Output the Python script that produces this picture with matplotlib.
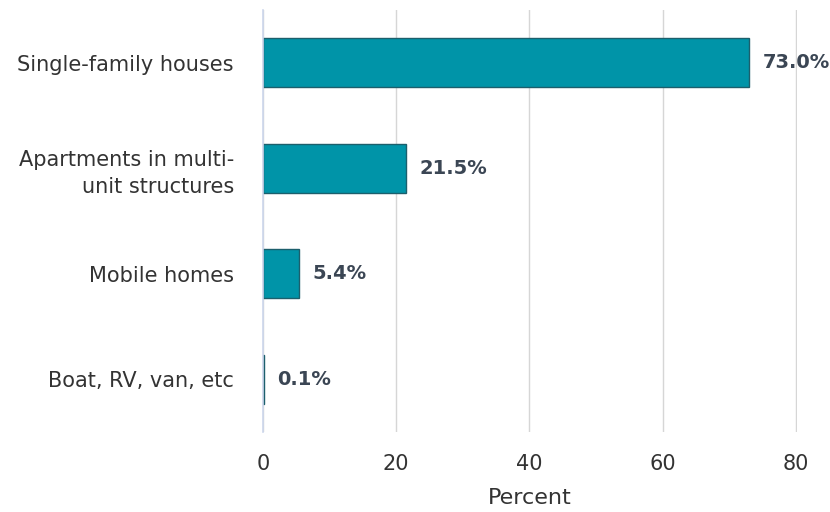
import matplotlib.pyplot as plt

plt.rcParams["font.family"] = ["DejaVu Sans"]

categories = ["Single-family houses", "Apartments in multi-\nunit structures",
              "Mobile homes", "Boat, RV, van, etc"]
values = [73.0, 21.5, 5.4, 0.1]
xticks = [0, 20, 40, 60, 80]

fig = plt.figure(figsize=(8.3, 5.12), dpi=100)
ax = fig.add_axes([263 / 830, 80 / 512, 534 / 830, 422 / 512])

pos = list(range(len(categories)))
ax.barh(pos, values, height=0.46, color="#0094a8", edgecolor="#1c5f6c",
        linewidth=1, zorder=3)
for p, v in zip(pos, values):
    ax.text(v + 2.0, p, f"{v:.1f}%", va="center", ha="left", fontsize=14,
            fontweight="bold", color="#3b4654", zorder=4, clip_on=False)

ax.set_ylim(len(categories) - 0.5, -0.5)
ax.set_xlim(0, 80.2)
ax.set_yticks(pos)
ax.set_yticklabels(categories, fontsize=15, color="#333333",
                   ha="right", multialignment="right", linespacing=1.45)
ax.set_xticks(xticks)
ax.set_xticklabels([str(t) for t in xticks], fontsize=15, color="#333333")
ax.tick_params(axis="y", length=0, pad=21)
ax.tick_params(axis="x", length=0, pad=16)
ax.set_xlabel("Percent", fontsize=16, color="#333333", labelpad=10)

ax.grid(axis="x", color="#d6d6d6", linewidth=1, zorder=0)
for side in ["top", "right", "bottom"]:
    ax.spines[side].set_visible(False)
ax.spines["left"].set_color("#ccd6eb")
ax.spines["left"].set_linewidth(1.2)
ax.spines["left"].set_zorder(5)

fig.savefig("out.png", dpi=100)
plt.close(fig)
